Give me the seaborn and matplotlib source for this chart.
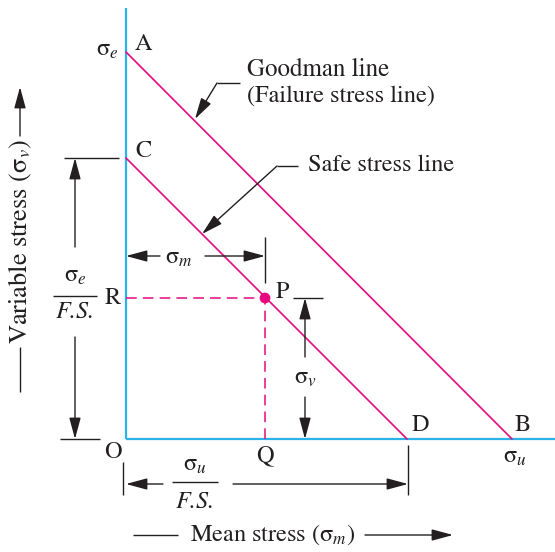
import numpy as np
import pandas as pd
import seaborn as sns
import matplotlib.pyplot as plt

# Goodman diagram values (drawing units, origin at O)
goodman_x = [0, 386]     # A -> B
goodman_y = [387, 0]
safe_x = [0, 281]        # C -> D
safe_y = [281, 0]
point_p = [139, 141]     # working point P (sigma_m, sigma_v)

pink = "#E6097F"
cyan = "#29B3E6"
ink = "#231F20"
fs = 17.5

sns.set_style("white")
plt.rcParams["font.family"] = ["STIXGeneral", "DejaVu Serif"]
plt.rcParams["mathtext.fontset"] = "stix"

fig = plt.figure(figsize=(5.55, 5.52), dpi=100)
ax = fig.add_axes([0, 0, 1, 1])
ax.set_xlim(-126, 429)
ax.set_ylim(-113, 439)
ax.axis("off")


def p(px, py):
    # pixel position in the picture -> drawing units
    return px - 126, 439 - py


def txt(px, py, s, size=fs, **kw):
    x, y = p(px, py)
    ax.text(x, y, s, fontsize=size, color=ink, ha="center", va="center", **kw)


def seg(p0, p1, color=ink, lw=1.0, **kw):
    x0, y0 = p(*p0)
    x1, y1 = p(*p1)
    ax.plot([x0, x1], [y0, y1], color=color, lw=lw, solid_capstyle="butt", **kw)


def arrow(tail, head):
    ax.annotate("", xy=p(*head), xytext=p(*tail),
                arrowprops=dict(arrowstyle="-|>,head_length=1.0,head_width=0.27",
                                color=ink, lw=1.0, shrinkA=0, shrinkB=0,
                                mutation_scale=13))


# axes of the diagram
ax.plot([0, 0], [0, 431], color=cyan, lw=1.6, solid_capstyle="butt")
ax.plot([0, 429], [0, 0], color=cyan, lw=1.6, solid_capstyle="butt")

# Goodman line and safe stress line
lines = pd.DataFrame({
    "x": goodman_x + safe_x,
    "y": goodman_y + safe_y,
    "line": ["goodman"] * 2 + ["safe"] * 2,
})
sns.lineplot(data=lines, x="x", y="y", units="line", estimator=None,
             color=pink, lw=1.2, sort=False, ax=ax, legend=False)

# working point P and its projections
ax.plot([0, point_p[0]], [point_p[1], point_p[1]], color=pink, lw=1.1,
        dashes=(7, 4))
ax.plot([point_p[0], point_p[0]], [0, point_p[1]], color=pink, lw=1.1,
        dashes=(7, 4))
sns.scatterplot(x=[point_p[0]], y=[point_p[1]], color=pink, s=60,
                edgecolor="none", ax=ax, zorder=5)

# point labels
txt(143, 44, "A")
txt(107, 50, r"$\mathrm{\sigma}_{e}$")
txt(143, 151, "C")
txt(113, 298, "R")
txt(282, 292, "P")
txt(113, 452, "O")
txt(265, 456, "Q")
txt(420, 425, "D")
txt(523, 425, "B")
txt(515, 457, r"$\mathrm{\sigma}_{u}$")

# leaders
ax.text(*p(247, 70), "Goodman line", fontsize=fs + 0.5, color=ink, va="center")
ax.text(*p(247, 96), "(Failure stress line)", fontsize=fs, color=ink, va="center")
seg((217, 83), (240, 83))
arrow((217, 83), (195, 119))
ax.text(*p(308, 165), "Safe stress line", fontsize=fs, color=ink, va="center")
seg((277, 166), (298, 166))
arrow((277, 166), (202, 234))

# sigma_m dimension
seg((265, 237), (265, 283))
arrow((160, 256), (126, 256))
arrow((205, 256), (265, 256))
txt(179, 258, r"$\mathrm{\sigma}_{m}$")

# sigma_v dimension
seg((293, 298), (323, 298))
arrow((305, 357), (305, 298))
arrow((305, 397), (305, 439))
txt(305, 378, r"$\mathrm{\sigma}_{v}$")

# sigma_e / F.S. dimension
seg((64, 158), (119, 158))
seg((60, 439), (100, 439))
arrow((75, 247), (75, 158))
arrow((75, 337), (75, 439))
txt(75, 276, r"$\mathrm{\sigma}_{e}$")
seg((53, 296), (97, 296))
txt(75, 312, "F.S.", style="italic")

# sigma_u / F.S. dimension
seg((123, 462), (123, 495))
seg((408, 445), (408, 495))
arrow((163, 484), (126, 484))
arrow((233, 484), (408, 484))
txt(195, 465, r"$\mathrm{\sigma}_{u}$")
seg((172, 482), (218, 482))
txt(195, 502, "F.S.", style="italic")

# axis captions
seg((133, 535), (178, 535))
txt(273, 535, r"Mean stress ($\mathrm{\sigma}_{m}$)")
arrow((365, 535), (453, 535))

seg((20, 347), (20, 392))
txt(20, 241, r"Variable stress ($\mathrm{\sigma}_{v}$)", size=19, rotation=90)
arrow((20, 136), (20, 87))

plt.savefig("out.png", dpi=100)
